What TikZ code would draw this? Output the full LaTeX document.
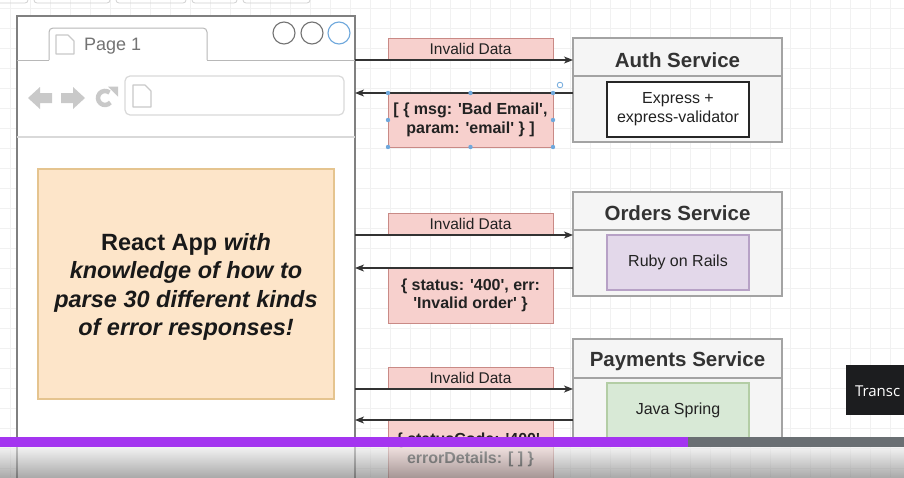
\documentclass[tikz,border=0pt]{standalone}
\usepackage{fontspec}
\setmainfont{Liberation Sans}[Ligatures=TeXOff]
\newfontfamily\uifont{Open Sans}
\usetikzlibrary{arrows.meta}
\definecolor{gridc}{HTML}{F1F1F1}
\definecolor{redfill}{HTML}{F7D0CD}
\definecolor{redline}{HTML}{C98A86}
\definecolor{svcfill}{HTML}{F5F5F5}
\definecolor{svcline}{HTML}{A3A3A3}
\definecolor{purfill}{HTML}{E3D8EA}
\definecolor{purline}{HTML}{B7A1C6}
\definecolor{grnfill}{HTML}{D8E9D6}
\definecolor{grnline}{HTML}{B3CDA5}
\definecolor{peach}{HTML}{FDE5C9}
\definecolor{peachline}{HTML}{E5C48F}
\definecolor{txt}{HTML}{222222}
\definecolor{iconc}{HTML}{C9C9C9}
\definecolor{handle}{HTML}{6FA8DC}
\definecolor{udpurple}{HTML}{A435F0}
\definecolor{udgrey}{HTML}{6A6F73}
\definecolor{udblack}{HTML}{1C1D1F}
\begin{document}
\begin{tikzpicture}[x=1pt,y=-1pt,
  every node/.style={inner sep=0pt, outer sep=0pt, text=txt},
  svc/.style={draw=svcline, fill=svcfill, line width=1.2pt, minimum width=209pt, minimum height=104pt, anchor=north west},
  svctitle/.style={font=\bfseries\fontsize{20.5}{24}\selectfont, text=black!80},
  inner/.style={line width=1.2pt, minimum width=142pt, minimum height=55pt, anchor=north west, align=center, font=\fontsize{16}{19}\selectfont},
  invbox/.style={draw=redline, fill=redfill, line width=1pt, minimum width=165pt, minimum height=22pt, anchor=north west, font=\fontsize{15.5}{18}\selectfont},
  respbox/.style={draw=redline, fill=redfill, line width=1pt, minimum width=165pt, minimum height=54pt, anchor=north west, align=center, font=\bfseries\fontsize{16}{18.5}\selectfont},
  arr/.style={draw=black!80, line width=1.2pt, -{Stealth[length=9pt,width=7pt,inset=2.5pt]}},
  hnd/.style={fill=handle}
]
\clip (0,0) rectangle (904,477);
\fill[white] (0,0) rectangle (904,477);
% grid
\foreach \i in {10,30,...,904} \draw[gridc, line width=0.6pt] (\i,0) -- (\i,477);
\foreach \j in {8,28,...,477} \draw[gridc, line width=0.6pt] (0,\j) -- (904,\j);
% toolbar remnants at the top
\foreach \a/\b in {-10/28, 34/110, 116/186, 192/237, 243/310}
  \draw[black!18, line width=0.8pt, rounded corners=3pt] (\a,-10) rectangle (\b,3);

% ---------------- browser ----------------
\node[draw=black!50, fill=white, line width=1.2pt, minimum width=338pt, minimum height=480pt, anchor=north west] (browser) at (17,16) {};
% tab
\draw[black!28, line width=1pt, rounded corners=4pt] (49,60) -- (49,28) -- (207,28) -- (207,60);
\draw[black!28, line width=1pt] (17,60) -- (49,60) (207,60) -- (355,60);
\draw[iconc, line width=1.2pt, line join=round] (56,35) -- (68,35) -- (74,41) -- (74,54) -- (56,54) -- cycle;
\node[anchor=west, font=\fontsize{18}{20}\selectfont, text=black!55] (pagetitle) at (84,46) {Page 1};
% window circles
\node[draw=black!55, line width=1.1pt, circle, minimum size=22pt] (c1) at (284,33) {};
\node[draw=black!55, line width=1.1pt, circle, minimum size=22pt] (c2) at (312,33) {};
\node[draw=handle, line width=1.1pt, circle, minimum size=22pt] (c3) at (339,33) {};
% nav icons
\fill[iconc] (28,98) -- (40,87) -- (40,93) -- (52,93) -- (52,103) -- (40,103) -- (40,109) -- cycle;
\fill[iconc] (85,98) -- (73,87) -- (73,93) -- (61,93) -- (61,103) -- (73,103) -- (73,109) -- cycle;
\draw[iconc, line width=4.5pt] (109.5,92.6) arc[start angle=-50, end angle=-320, radius=7];
\fill[iconc] (108,86.5) -- (118,86.5) -- (118,96.5) -- cycle;
% address bar
\node[draw=black!15, line width=1.2pt, rounded corners=5pt, minimum width=219pt, minimum height=39pt, anchor=north west] (addr) at (125,76) {};
\draw[iconc, line width=1.2pt, line join=round] (133,85) -- (145,85) -- (151,91) -- (151,107) -- (133,107) -- cycle;
\draw[black!15, line width=1.2pt] (17,137) -- (355,137);
% react app box
\node[draw=peachline, fill=peach, line width=1.2pt, minimum width=296pt, minimum height=230pt, anchor=north west] (react) at (38,169) {};
\node[align=center, font=\bfseries\fontsize{23.5}{28.3}\selectfont, text=black!90] (reacttxt) at (186,287)
  {React App \textit{with}\\ \textit{knowledge of how to}\\ \textit{parse 30 different kinds}\\ \textit{of error responses!}};

% ---------------- services ----------------
\node[svc] (auth) at (573,38) {};
\draw[svcline, line width=1.2pt] (auth.west |- 0,76) -- (auth.east |- 0,76);
\node[svctitle] (authT) at (677.5,60) {Auth Service};
\node[inner, draw=black!85, fill=white] (express) at (607,82) {Express +\\express-validator};

\node[svc] (orders) at (573,192) {};
\draw[svcline, line width=1.2pt] (orders.west |- 0,230) -- (orders.east |- 0,230);
\node[svctitle] (ordersT) at (677.5,213) {Orders Service};
\node[inner, draw=purline, fill=purfill] (rails) at (607,235) {Ruby on Rails};

\node[svc] (pay) at (573,339) {};
\draw[svcline, line width=1.2pt] (pay.west |- 0,378) -- (pay.east |- 0,378);
\node[svctitle] (payT) at (677.5,361) {Payments Service};
\node[inner, draw=grnline, fill=grnfill] (spring) at (607,383) {Java Spring};

% ---------------- messages ----------------
\node[invbox] (inv1) at (388,38) {Invalid Data};
\node[respbox] (resp1) at (388,93) {[ \{ msg: 'Bad Email',\\ param: 'email' \} ]};
\node[invbox] (inv2) at (388,213) {Invalid Data};
\node[respbox, minimum height=55pt] (resp2) at (388,268) {\{ status: '400', err:\\ 'Invalid order' \}};
\node[invbox] (inv3) at (388,367) {Invalid Data};
\node[respbox, minimum height=60pt] (resp3) at (388,420) {\{ statusCode: '400',\\ errorDetails: [ ] \}};

\draw[arr] (browser.east |- inv1.south) -- (auth.west |- inv1.south);
\draw[arr] (auth.west |- resp1.north) -- (browser.east |- resp1.north);
\draw[arr] (browser.east |- inv2.south) -- (orders.west |- inv2.south);
\draw[arr] (orders.west |- resp2.north) -- (browser.east |- resp2.north);
\draw[arr] (browser.east |- inv3.south) -- (pay.west |- inv3.south);
\draw[arr] (pay.west |- resp3.north) -- (browser.east |- resp3.north);

% selection handles
\foreach \p in {resp1.north west, resp1.north, resp1.north east, resp1.west, resp1.east, resp1.south west, resp1.south, resp1.south east}
  \fill[hnd] (\p) circle[radius=2.2];
\draw[handle, line width=0.8pt] (560,85) circle[radius=2.8];

% ---------------- video player overlay ----------------
\node[fill=udblack, minimum width=70pt, minimum height=50pt, anchor=north west] (transc) at (846,365) {};
\node[anchor=west, font=\uifont\fontsize{15}{18}\selectfont, text=white] (transctxt) at (855,391) {Transc};
\shade[top color=black!8, bottom color=black!55, opacity=0.6] (0,447) rectangle (904,477);
\fill[udpurple] (0,437) rectangle (688,447);
\fill[udgrey] (688,437) rectangle (904,447);
\end{tikzpicture}
\end{document}
